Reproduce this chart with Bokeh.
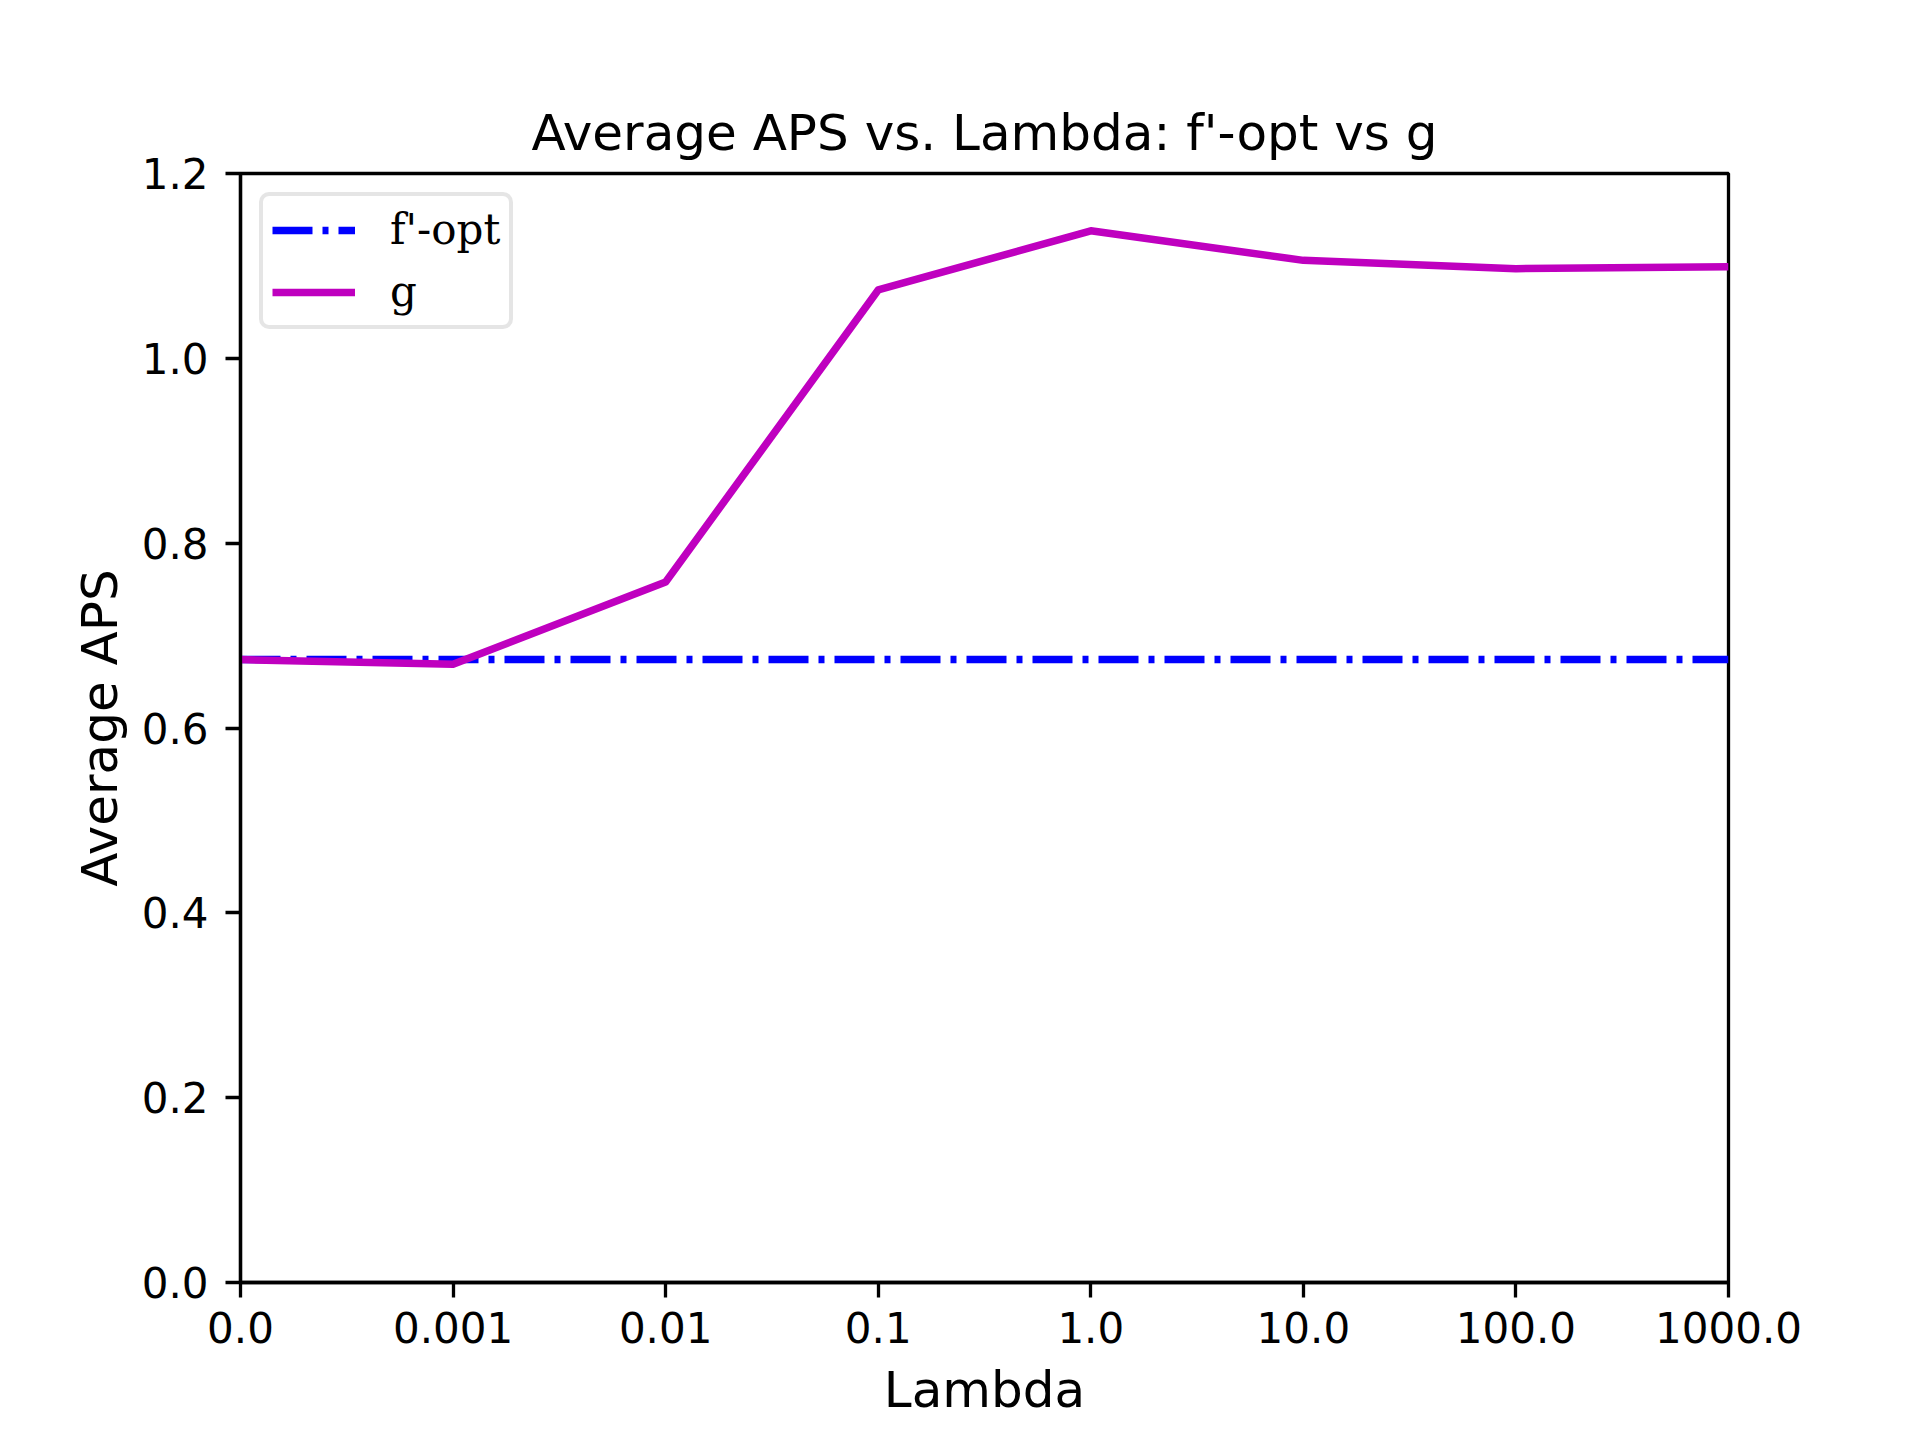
from bokeh.plotting import figure
from bokeh.models import FixedTicker, PrintfTickFormatter, Range1d, Legend, LegendItem
from bokeh.embed import file_html
from bokeh.resources import INLINE

# ---- data ----
lambda_labels = ["0.0", "0.001", "0.01", "0.1", "1.0", "10.0", "100.0", "1000.0"]
x_idx = [0, 1, 2, 3, 4, 5, 6, 7]
f_opt = [0.674, 0.674, 0.674, 0.674, 0.674, 0.674, 0.674, 0.674]
g_vals = [0.674, 0.669, 0.758, 1.074, 1.138, 1.106, 1.097, 1.099]
y_ticks = [0.0, 0.2, 0.4, 0.6, 0.8, 1.0, 1.2]

FONT = "DejaVu Sans"

p = figure(
    frame_width=1488, frame_height=1109,
    min_border_left=240, min_border_right=176,
    min_border_top=173, min_border_bottom=142,
    x_range=Range1d(0, 7), y_range=Range1d(0, 1.2),
    output_backend="svg", toolbar_location=None,
    title="Average APS vs. Lambda: f'-opt vs g",
)
p.background_fill_color = "white"
p.border_fill_color = "white"
p.grid.visible = False
p.outline_line_color = "black"
p.outline_line_width = 3.3

# title
p.title.text_font = FONT
p.title.text_font_size = "50px"
p.title.text_font_style = "normal"
p.title.text_color = "black"
p.title.align = "center"
p.title.standoff = 24

r1 = p.line(x_idx, f_opt, line_color="#0000ff", line_width=7.5,
            line_dash="40 10 6 10", line_cap="butt")
r2 = p.line(x_idx, g_vals, line_color="#bf00bf", line_width=7.5,
            line_join="round")

for ax in (p.xaxis[0], p.yaxis[0]):
    ax.axis_line_color = "black"
    ax.axis_line_width = 3.3
    ax.major_tick_line_color = "black"
    ax.major_tick_line_width = 3.3
    ax.major_tick_out = 15
    ax.major_tick_in = 0
    ax.minor_tick_line_color = None
    ax.major_label_text_font = FONT
    ax.major_label_text_font_size = "42px"
    ax.major_label_text_color = "black"
    ax.axis_label_text_font = FONT
    ax.axis_label_text_font_size = "50px"
    ax.axis_label_text_font_style = "normal"
    ax.axis_label_text_color = "black"

p.xaxis.ticker = FixedTicker(ticks=x_idx)
p.xaxis.major_label_overrides = {i: lab for i, lab in zip(x_idx, lambda_labels)}
p.xaxis.axis_label = "Lambda"
p.xaxis.major_label_standoff = 14
p.xaxis.axis_label_standoff = 15

p.yaxis.ticker = FixedTicker(ticks=y_ticks)
p.yaxis.formatter = PrintfTickFormatter(format="%.1f")
p.yaxis.axis_label = "Average APS"
p.yaxis.major_label_standoff = 17
p.yaxis.axis_label_standoff = 10

legend = Legend(
    items=[LegendItem(label="f'-opt", renderers=[r1]),
           LegendItem(label="g", renderers=[r2])],
    location="top_left",
    margin=19,
    padding=9,
    spacing=13,
    glyph_width=83, glyph_height=42,
    label_height=42,
    label_standoff=35,
    label_text_font="DejaVu Serif",
    label_text_font_size="42px",
    label_text_color="black",
    border_line_color="#cccccc",
    border_line_width=4,
    background_fill_color="white",
    background_fill_alpha=0.8,
)
if hasattr(legend, "border_radius"):
    legend.border_radius = 10
p.add_layout(legend, "center")

open("out.html", "w").write(file_html(p, INLINE))
